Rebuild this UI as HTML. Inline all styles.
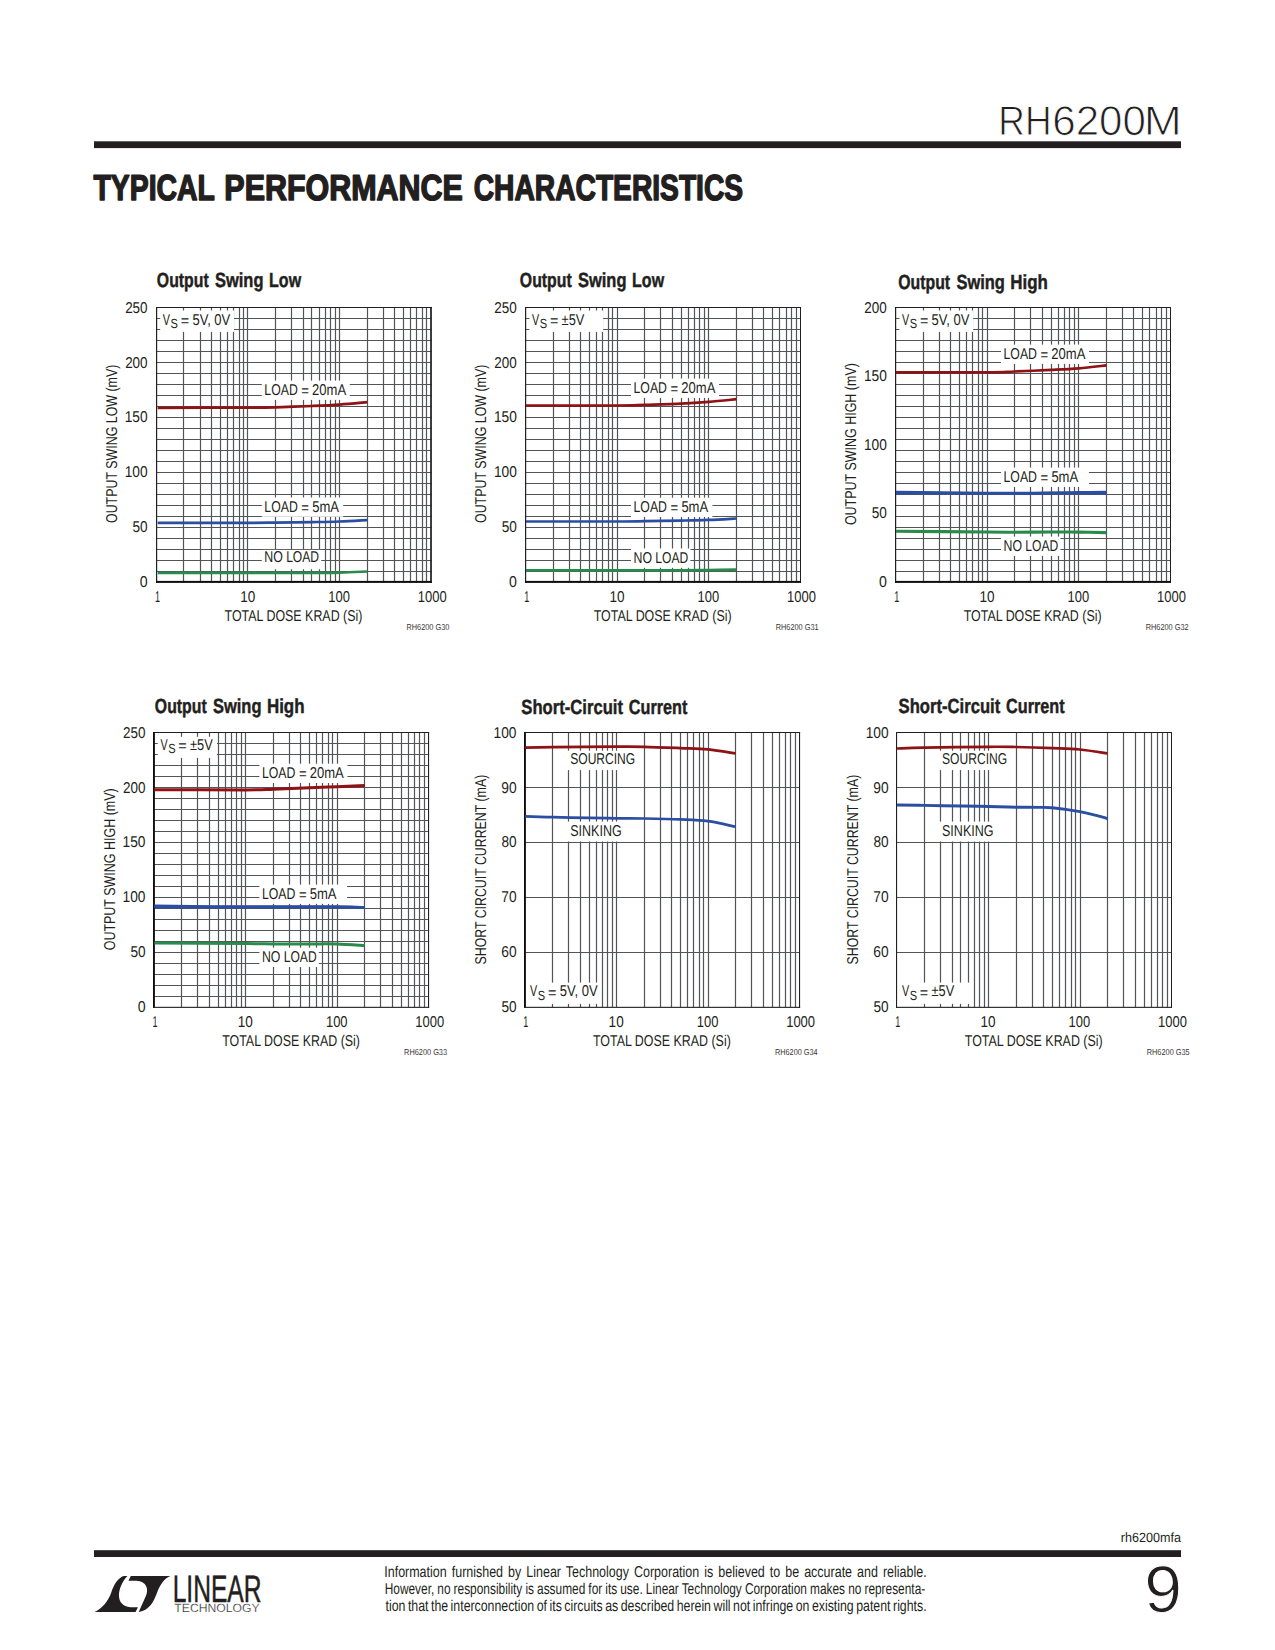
<!DOCTYPE html>
<html><head><meta charset="utf-8"><title>RH6200M</title>
<style>
html,body{margin:0;padding:0;background:#fff}
body{width:1275px;height:1650px;overflow:hidden;font-family:'Liberation Sans', sans-serif}
svg{display:block;font-family:'Liberation Sans', sans-serif}
text{white-space:pre}
</style></head><body>
<svg width="1275" height="1650" viewBox="0 0 1275 1650" text-rendering="geometricPrecision" fill="#231f20">
<text font-size="41.5" stroke="#fff" stroke-width="0.9"><tspan x="998.35" y="135.00" textLength="53.26" lengthAdjust="spacingAndGlyphs">RH</tspan><tspan x="1052.29" y="135.00" textLength="93.69" lengthAdjust="spacingAndGlyphs">6200</tspan><tspan x="1143.75" y="135.00" textLength="38.05" lengthAdjust="spacingAndGlyphs">M</tspan></text>
<rect x="94.00" y="141.30" width="1087.00" height="6.80" fill="#231f20"/>
<text font-size="36" font-weight="bold" stroke="#231f20" stroke-width="1.5" stroke-linejoin="round"><tspan x="93.52" y="200.20" textLength="120.87" lengthAdjust="spacingAndGlyphs">TYPICAL</tspan> <tspan x="224.37" y="200.20" textLength="238.45" lengthAdjust="spacingAndGlyphs">PERFORMANCE</tspan> <tspan x="473.77" y="200.20" textLength="269.32" lengthAdjust="spacingAndGlyphs">CHARACTERISTICS</tspan></text>
<path d="M183.5 307.50V582.30M200.5 307.50V582.30M211.5 307.50V582.30M220.5 307.50V582.30M227.5 307.50V582.30M233.5 307.50V582.30M239.5 307.50V582.30M243.5 307.50V582.30M247.5 307.50V582.30M275.5 307.50V582.30M291.5 307.50V582.30M303.5 307.50V582.30M311.5 307.50V582.30M319.5 307.50V582.30M325.5 307.50V582.30M330.5 307.50V582.30M335.5 307.50V582.30M339.5 307.50V582.30M367.5 307.50V582.30M383.5 307.50V582.30M394.5 307.50V582.30M403.5 307.50V582.30M410.5 307.50V582.30M416.5 307.50V582.30M422.5 307.50V582.30M426.5 307.50V582.30M156.50 318.5H431.20M156.50 329.5H431.20M156.50 340.5H431.20M156.50 351.5H431.20M156.50 362.5H431.20M156.50 373.5H431.20M156.50 384.5H431.20M156.50 395.5H431.20M156.50 406.5H431.20M156.50 417.5H431.20M156.50 428.5H431.20M156.50 439.5H431.20M156.50 450.5H431.20M156.50 461.5H431.20M156.50 472.5H431.20M156.50 483.5H431.20M156.50 494.5H431.20M156.50 505.5H431.20M156.50 516.5H431.20M156.50 527.5H431.20M156.50 538.5H431.20M156.50 549.5H431.20M156.50 560.5H431.20M156.50 571.5H431.20" stroke="#525558" stroke-width="1.2" fill="none"/>
<rect x="160.20" y="310.50" width="73.80" height="21.40" fill="#fff"/>
<rect x="261.80" y="380.60" width="88.00" height="19.30" fill="#fff"/>
<rect x="261.80" y="497.50" width="81.40" height="19.30" fill="#fff"/>
<rect x="261.80" y="549.90" width="59.40" height="19.30" fill="#fff"/>
<rect x="156.00" y="307.00" width="275.80" height="1.00" fill="#231f20"/>
<rect x="430.20" y="307.00" width="1.60" height="275.90" fill="#110d0e"/>
<rect x="156.00" y="307.00" width="1.20" height="275.90" fill="#231f20"/>
<rect x="156.00" y="580.90" width="275.80" height="2.00" fill="#110d0e"/>
<path d="M157.70 407.80C172.76 407.77 228.41 407.68 248.07 407.60C267.72 407.52 264.96 407.57 275.63 407.30C286.30 407.03 301.40 406.45 312.07 406.00C322.74 405.55 330.45 405.23 339.63 404.60C348.82 403.97 362.60 402.60 367.20 402.20" stroke="#8e1216" stroke-width="2.7" fill="none"/>
<path d="M157.70 522.80C172.76 522.80 228.41 522.83 248.07 522.80C267.72 522.77 264.96 522.72 275.63 522.60C286.30 522.48 301.40 522.28 312.07 522.10C322.74 521.92 330.45 521.83 339.63 521.50C348.82 521.17 362.60 520.33 367.20 520.10" stroke="#2b4ea2" stroke-width="2.7" fill="none"/>
<path d="M157.70 572.80C172.76 572.80 222.34 572.80 248.07 572.80C273.79 572.80 296.81 572.83 312.07 572.80C327.33 572.77 330.45 572.82 339.63 572.60C348.82 572.38 362.60 571.68 367.20 571.50" stroke="#2a8a4c" stroke-width="2.7" fill="none"/>
<text font-size="15.7"><tspan x="162.79" y="324.80" textLength="7.18" lengthAdjust="spacingAndGlyphs">V</tspan><tspan x="170.55" y="327.90" font-size="13.3" textLength="7.37" lengthAdjust="spacingAndGlyphs">S</tspan> <tspan x="180.68" y="326.20" textLength="8.40" lengthAdjust="spacingAndGlyphs">=</tspan> <tspan x="192.38" y="324.80" textLength="37.95" lengthAdjust="spacingAndGlyphs">5V, 0V</tspan></text>
<text font-size="15.7"><tspan x="264.32" y="394.60" textLength="33.44" lengthAdjust="spacingAndGlyphs">LOAD</tspan> <tspan x="301.34" y="396.00" textLength="7.67" lengthAdjust="spacingAndGlyphs">=</tspan> <tspan x="312.05" y="394.60" textLength="34.08" lengthAdjust="spacingAndGlyphs">20mA</tspan></text>
<text font-size="15.7"><tspan x="264.32" y="511.50" textLength="33.44" lengthAdjust="spacingAndGlyphs">LOAD</tspan> <tspan x="301.34" y="512.90" textLength="7.67" lengthAdjust="spacingAndGlyphs">=</tspan> <tspan x="312.18" y="511.50" textLength="26.80" lengthAdjust="spacingAndGlyphs">5mA</tspan></text>
<text font-size="15.7"><tspan x="264.31" y="562.40" textLength="18.50" lengthAdjust="spacingAndGlyphs">NO</tspan> <tspan x="286.13" y="562.40" textLength="32.91" lengthAdjust="spacingAndGlyphs">LOAD</tspan></text>
<text font-size="20.5" font-weight="bold" stroke="#231f20" stroke-width="0.45"><tspan x="156.87" y="287.30" textLength="51.79" lengthAdjust="spacingAndGlyphs">Output</tspan> <tspan x="215.01" y="287.30" textLength="48.45" lengthAdjust="spacingAndGlyphs">Swing</tspan> <tspan x="269.08" y="287.30" textLength="32.01" lengthAdjust="spacingAndGlyphs">Low</tspan></text>
<text x="139.73" y="586.80" font-size="15.7" textLength="7.88" lengthAdjust="spacingAndGlyphs">0</text>
<text x="132.50" y="532.02" font-size="15.7" textLength="15.17" lengthAdjust="spacingAndGlyphs">50</text>
<text x="124.70" y="477.24" font-size="15.7" textLength="22.93" lengthAdjust="spacingAndGlyphs">100</text>
<text x="124.70" y="422.46" font-size="15.7" textLength="22.93" lengthAdjust="spacingAndGlyphs">150</text>
<text x="125.13" y="367.68" font-size="15.7" textLength="22.49" lengthAdjust="spacingAndGlyphs">200</text>
<text x="125.13" y="312.90" font-size="15.7" textLength="22.49" lengthAdjust="spacingAndGlyphs">250</text>
<text x="154.97" y="601.80" font-size="15.7" textLength="5.05" lengthAdjust="spacingAndGlyphs">1</text>
<text x="240.22" y="601.80" font-size="15.7" textLength="15.06" lengthAdjust="spacingAndGlyphs">10</text>
<text x="328.36" y="601.80" font-size="15.7" textLength="21.64" lengthAdjust="spacingAndGlyphs">100</text>
<text x="417.76" y="601.80" font-size="15.7" textLength="28.92" lengthAdjust="spacingAndGlyphs">1000</text>
<text x="224.55" y="620.60" font-size="15.7" textLength="137.85" lengthAdjust="spacingAndGlyphs">TOTAL DOSE KRAD (Si)</text>
<text x="406.51" y="629.80" font-size="8.6" fill="#3a3637" textLength="42.86" lengthAdjust="spacingAndGlyphs">RH6200 G30</text>
<text transform="translate(117.00 523.02) rotate(-90)" font-size="15.7" textLength="158.35" lengthAdjust="spacingAndGlyphs">OUTPUT SWING LOW (mV)</text>
<path d="M553.5 307.50V582.30M569.5 307.50V582.30M580.5 307.50V582.30M589.5 307.50V582.30M596.5 307.50V582.30M602.5 307.50V582.30M608.5 307.50V582.30M612.5 307.50V582.30M617.5 307.50V582.30M644.5 307.50V582.30M660.5 307.50V582.30M672.5 307.50V582.30M681.5 307.50V582.30M688.5 307.50V582.30M694.5 307.50V582.30M699.5 307.50V582.30M704.5 307.50V582.30M708.5 307.50V582.30M736.5 307.50V582.30M752.5 307.50V582.30M763.5 307.50V582.30M772.5 307.50V582.30M779.5 307.50V582.30M786.5 307.50V582.30M791.5 307.50V582.30M796.5 307.50V582.30M525.70 318.5H800.40M525.70 329.5H800.40M525.70 340.5H800.40M525.70 351.5H800.40M525.70 362.5H800.40M525.70 373.5H800.40M525.70 384.5H800.40M525.70 395.5H800.40M525.70 406.5H800.40M525.70 417.5H800.40M525.70 428.5H800.40M525.70 439.5H800.40M525.70 450.5H800.40M525.70 461.5H800.40M525.70 472.5H800.40M525.70 483.5H800.40M525.70 494.5H800.40M525.70 505.5H800.40M525.70 516.5H800.40M525.70 527.5H800.40M525.70 538.5H800.40M525.70 549.5H800.40M525.70 560.5H800.40M525.70 571.5H800.40" stroke="#525558" stroke-width="1.2" fill="none"/>
<rect x="529.40" y="310.50" width="73.80" height="21.40" fill="#fff"/>
<rect x="631.00" y="378.60" width="88.00" height="19.30" fill="#fff"/>
<rect x="631.00" y="497.70" width="81.40" height="19.30" fill="#fff"/>
<rect x="631.00" y="548.50" width="59.40" height="19.30" fill="#fff"/>
<rect x="525.00" y="307.00" width="276.00" height="1.00" fill="#231f20"/>
<rect x="800.00" y="307.00" width="1.00" height="275.90" fill="#231f20"/>
<rect x="525.00" y="307.00" width="1.20" height="275.90" fill="#231f20"/>
<rect x="525.00" y="580.90" width="276.00" height="2.00" fill="#110d0e"/>
<path d="M526.00 405.50C541.21 405.50 597.46 405.62 617.27 405.50C637.07 405.38 634.16 405.10 644.83 404.80C655.50 404.50 670.60 404.18 681.27 403.70C691.94 403.22 699.65 402.65 708.83 401.90C718.02 401.15 731.80 399.65 736.40 399.20" stroke="#8e1216" stroke-width="2.7" fill="none"/>
<path d="M526.00 521.50C541.21 521.50 597.46 521.55 617.27 521.50C637.07 521.45 634.16 521.35 644.83 521.20C655.50 521.05 670.60 520.82 681.27 520.60C691.94 520.38 699.65 520.25 708.83 519.90C718.02 519.55 731.80 518.73 736.40 518.50" stroke="#2b4ea2" stroke-width="2.7" fill="none"/>
<path d="M526.00 570.45C541.21 570.45 591.39 570.48 617.27 570.45C643.14 570.43 666.01 570.36 681.27 570.30C696.53 570.24 699.65 570.20 708.83 570.10C718.02 570.00 731.80 569.77 736.40 569.70" stroke="#2a8a4c" stroke-width="2.7" fill="none"/>
<text font-size="15.7"><tspan x="531.99" y="324.80" textLength="7.18" lengthAdjust="spacingAndGlyphs">V</tspan><tspan x="539.75" y="327.90" font-size="13.3" textLength="7.37" lengthAdjust="spacingAndGlyphs">S</tspan> <tspan x="549.88" y="326.20" textLength="8.40" lengthAdjust="spacingAndGlyphs">=</tspan> <tspan x="561.62" y="324.80" textLength="22.74" lengthAdjust="spacingAndGlyphs">±5V</tspan></text>
<text font-size="15.7"><tspan x="633.52" y="392.60" textLength="33.44" lengthAdjust="spacingAndGlyphs">LOAD</tspan> <tspan x="670.54" y="394.00" textLength="7.67" lengthAdjust="spacingAndGlyphs">=</tspan> <tspan x="681.25" y="392.60" textLength="34.08" lengthAdjust="spacingAndGlyphs">20mA</tspan></text>
<text font-size="15.7"><tspan x="633.52" y="511.70" textLength="33.44" lengthAdjust="spacingAndGlyphs">LOAD</tspan> <tspan x="670.54" y="513.10" textLength="7.67" lengthAdjust="spacingAndGlyphs">=</tspan> <tspan x="681.38" y="511.70" textLength="26.80" lengthAdjust="spacingAndGlyphs">5mA</tspan></text>
<text font-size="15.7"><tspan x="633.51" y="562.50" textLength="18.50" lengthAdjust="spacingAndGlyphs">NO</tspan> <tspan x="655.33" y="562.50" textLength="32.91" lengthAdjust="spacingAndGlyphs">LOAD</tspan></text>
<text font-size="20.5" font-weight="bold" stroke="#231f20" stroke-width="0.45"><tspan x="519.87" y="287.30" textLength="51.79" lengthAdjust="spacingAndGlyphs">Output</tspan> <tspan x="578.01" y="287.30" textLength="48.45" lengthAdjust="spacingAndGlyphs">Swing</tspan> <tspan x="632.08" y="287.30" textLength="32.01" lengthAdjust="spacingAndGlyphs">Low</tspan></text>
<text x="508.93" y="586.80" font-size="15.7" textLength="7.88" lengthAdjust="spacingAndGlyphs">0</text>
<text x="501.70" y="532.02" font-size="15.7" textLength="15.17" lengthAdjust="spacingAndGlyphs">50</text>
<text x="493.90" y="477.24" font-size="15.7" textLength="22.93" lengthAdjust="spacingAndGlyphs">100</text>
<text x="493.90" y="422.46" font-size="15.7" textLength="22.93" lengthAdjust="spacingAndGlyphs">150</text>
<text x="494.33" y="367.68" font-size="15.7" textLength="22.49" lengthAdjust="spacingAndGlyphs">200</text>
<text x="494.33" y="312.90" font-size="15.7" textLength="22.49" lengthAdjust="spacingAndGlyphs">250</text>
<text x="524.17" y="601.80" font-size="15.7" textLength="5.05" lengthAdjust="spacingAndGlyphs">1</text>
<text x="609.42" y="601.80" font-size="15.7" textLength="15.06" lengthAdjust="spacingAndGlyphs">10</text>
<text x="697.56" y="601.80" font-size="15.7" textLength="21.64" lengthAdjust="spacingAndGlyphs">100</text>
<text x="786.96" y="601.80" font-size="15.7" textLength="28.92" lengthAdjust="spacingAndGlyphs">1000</text>
<text x="593.75" y="620.60" font-size="15.7" textLength="137.85" lengthAdjust="spacingAndGlyphs">TOTAL DOSE KRAD (Si)</text>
<text x="775.71" y="629.80" font-size="8.6" fill="#3a3637" textLength="42.93" lengthAdjust="spacingAndGlyphs">RH6200 G31</text>
<text transform="translate(485.90 523.02) rotate(-90)" font-size="15.7" textLength="158.35" lengthAdjust="spacingAndGlyphs">OUTPUT SWING LOW (mV)</text>
<path d="M923.5 307.50V582.30M939.5 307.50V582.30M950.5 307.50V582.30M959.5 307.50V582.30M966.5 307.50V582.30M972.5 307.50V582.30M978.5 307.50V582.30M982.5 307.50V582.30M987.5 307.50V582.30M1014.5 307.50V582.30M1030.5 307.50V582.30M1042.5 307.50V582.30M1051.5 307.50V582.30M1058.5 307.50V582.30M1064.5 307.50V582.30M1069.5 307.50V582.30M1074.5 307.50V582.30M1078.5 307.50V582.30M1106.5 307.50V582.30M1122.5 307.50V582.30M1133.5 307.50V582.30M1142.5 307.50V582.30M1149.5 307.50V582.30M1156.5 307.50V582.30M1161.5 307.50V582.30M1166.5 307.50V582.30M895.70 318.5H1170.40M895.70 329.5H1170.40M895.70 340.5H1170.40M895.70 351.5H1170.40M895.70 362.5H1170.40M895.70 373.5H1170.40M895.70 384.5H1170.40M895.70 395.5H1170.40M895.70 406.5H1170.40M895.70 417.5H1170.40M895.70 428.5H1170.40M895.70 439.5H1170.40M895.70 450.5H1170.40M895.70 461.5H1170.40M895.70 472.5H1170.40M895.70 483.5H1170.40M895.70 494.5H1170.40M895.70 505.5H1170.40M895.70 516.5H1170.40M895.70 527.5H1170.40M895.70 538.5H1170.40M895.70 549.5H1170.40M895.70 560.5H1170.40M895.70 571.5H1170.40" stroke="#525558" stroke-width="1.2" fill="none"/>
<rect x="899.40" y="310.50" width="73.80" height="21.40" fill="#fff"/>
<rect x="1001.00" y="344.60" width="88.00" height="19.30" fill="#fff"/>
<rect x="1001.00" y="467.60" width="87.90" height="19.30" fill="#fff"/>
<rect x="1001.00" y="536.60" width="59.40" height="19.30" fill="#fff"/>
<rect x="895.00" y="307.00" width="276.00" height="1.00" fill="#231f20"/>
<rect x="1170.00" y="307.00" width="1.00" height="275.90" fill="#231f20"/>
<rect x="895.00" y="307.00" width="1.20" height="275.90" fill="#231f20"/>
<rect x="895.00" y="580.90" width="276.00" height="2.00" fill="#110d0e"/>
<path d="M896.00 372.40C911.21 372.40 967.46 372.55 987.27 372.40C1007.07 372.25 1004.16 371.92 1014.83 371.50C1025.50 371.08 1040.60 370.43 1051.27 369.90C1061.94 369.37 1069.65 369.05 1078.83 368.30C1088.02 367.55 1101.80 365.88 1106.40 365.40" stroke="#8e1216" stroke-width="2.7" fill="none"/>
<path d="M896.00 492.00C911.21 492.17 967.46 492.80 987.27 493.00C1007.07 493.20 1004.16 493.23 1014.83 493.20C1025.50 493.17 1040.60 492.93 1051.27 492.80C1061.94 492.67 1069.65 492.53 1078.83 492.40C1088.02 492.27 1101.80 492.07 1106.40 492.00" stroke="#2b4ea2" stroke-width="2.7" fill="none"/>
<path d="M896.00 493.10C911.21 493.15 967.46 493.35 987.27 493.40C1007.07 493.45 1004.16 493.43 1014.83 493.40C1025.50 493.37 1040.60 493.23 1051.27 493.20C1061.94 493.17 1069.65 493.17 1078.83 493.20C1088.02 493.23 1101.80 493.37 1106.40 493.40" stroke="#2b4ea2" stroke-width="2.7" fill="none"/>
<path d="M896.00 531.20C911.21 531.33 967.46 531.83 987.27 532.00C1007.07 532.17 1004.16 532.20 1014.83 532.20C1025.50 532.20 1040.60 532.02 1051.27 532.00C1061.94 531.98 1069.65 532.00 1078.83 532.10C1088.02 532.20 1101.80 532.52 1106.40 532.60" stroke="#2a8a4c" stroke-width="3.1" fill="none"/>
<text font-size="15.7"><tspan x="901.99" y="324.80" textLength="7.18" lengthAdjust="spacingAndGlyphs">V</tspan><tspan x="909.75" y="327.90" font-size="13.3" textLength="7.37" lengthAdjust="spacingAndGlyphs">S</tspan> <tspan x="919.88" y="326.20" textLength="8.40" lengthAdjust="spacingAndGlyphs">=</tspan> <tspan x="931.58" y="324.80" textLength="37.95" lengthAdjust="spacingAndGlyphs">5V, 0V</tspan></text>
<text font-size="15.7"><tspan x="1003.52" y="358.60" textLength="33.44" lengthAdjust="spacingAndGlyphs">LOAD</tspan> <tspan x="1040.54" y="360.00" textLength="7.67" lengthAdjust="spacingAndGlyphs">=</tspan> <tspan x="1051.25" y="358.60" textLength="34.08" lengthAdjust="spacingAndGlyphs">20mA</tspan></text>
<text font-size="15.7"><tspan x="1003.52" y="481.60" textLength="33.44" lengthAdjust="spacingAndGlyphs">LOAD</tspan> <tspan x="1040.54" y="483.00" textLength="7.67" lengthAdjust="spacingAndGlyphs">=</tspan> <tspan x="1051.38" y="481.60" textLength="26.80" lengthAdjust="spacingAndGlyphs">5mA</tspan></text>
<text font-size="15.7"><tspan x="1003.51" y="550.60" textLength="18.50" lengthAdjust="spacingAndGlyphs">NO</tspan> <tspan x="1025.33" y="550.60" textLength="32.91" lengthAdjust="spacingAndGlyphs">LOAD</tspan></text>
<text font-size="20.5" font-weight="bold" stroke="#231f20" stroke-width="0.45"><tspan x="898.27" y="289.30" textLength="51.79" lengthAdjust="spacingAndGlyphs">Output</tspan> <tspan x="956.41" y="289.30" textLength="48.45" lengthAdjust="spacingAndGlyphs">Swing</tspan> <tspan x="1010.31" y="289.30" textLength="37.63" lengthAdjust="spacingAndGlyphs">High</tspan></text>
<text x="878.93" y="586.80" font-size="15.7" textLength="7.88" lengthAdjust="spacingAndGlyphs">0</text>
<text x="871.70" y="518.32" font-size="15.7" textLength="15.17" lengthAdjust="spacingAndGlyphs">50</text>
<text x="863.90" y="449.85" font-size="15.7" textLength="22.93" lengthAdjust="spacingAndGlyphs">100</text>
<text x="863.90" y="381.38" font-size="15.7" textLength="22.93" lengthAdjust="spacingAndGlyphs">150</text>
<text x="864.33" y="312.90" font-size="15.7" textLength="22.49" lengthAdjust="spacingAndGlyphs">200</text>
<text x="894.17" y="601.80" font-size="15.7" textLength="5.05" lengthAdjust="spacingAndGlyphs">1</text>
<text x="979.42" y="601.80" font-size="15.7" textLength="15.06" lengthAdjust="spacingAndGlyphs">10</text>
<text x="1067.56" y="601.80" font-size="15.7" textLength="21.64" lengthAdjust="spacingAndGlyphs">100</text>
<text x="1156.96" y="601.80" font-size="15.7" textLength="28.92" lengthAdjust="spacingAndGlyphs">1000</text>
<text x="963.75" y="620.60" font-size="15.7" textLength="137.85" lengthAdjust="spacingAndGlyphs">TOTAL DOSE KRAD (Si)</text>
<text x="1145.71" y="629.80" font-size="8.6" fill="#3a3637" textLength="42.93" lengthAdjust="spacingAndGlyphs">RH6200 G32</text>
<text transform="translate(855.90 525.12) rotate(-90)" font-size="15.7" textLength="161.99" lengthAdjust="spacingAndGlyphs">OUTPUT SWING HIGH (mV)</text>
<path d="M181.5 732.50V1007.30M197.5 732.50V1007.30M209.5 732.50V1007.30M218.5 732.50V1007.30M225.5 732.50V1007.30M231.5 732.50V1007.30M236.5 732.50V1007.30M241.5 732.50V1007.30M245.5 732.50V1007.30M273.5 732.50V1007.30M289.5 732.50V1007.30M300.5 732.50V1007.30M309.5 732.50V1007.30M316.5 732.50V1007.30M322.5 732.50V1007.30M328.5 732.50V1007.30M332.5 732.50V1007.30M337.5 732.50V1007.30M364.5 732.50V1007.30M380.5 732.50V1007.30M392.5 732.50V1007.30M401.5 732.50V1007.30M408.5 732.50V1007.30M414.5 732.50V1007.30M419.5 732.50V1007.30M424.5 732.50V1007.30M154.10 743.5H428.80M154.10 754.5H428.80M154.10 765.5H428.80M154.10 776.5H428.80M154.10 787.5H428.80M154.10 798.5H428.80M154.10 809.5H428.80M154.10 820.5H428.80M154.10 831.5H428.80M154.10 842.5H428.80M154.10 853.5H428.80M154.10 864.5H428.80M154.10 875.5H428.80M154.10 886.5H428.80M154.10 897.5H428.80M154.10 908.5H428.80M154.10 919.5H428.80M154.10 930.5H428.80M154.10 941.5H428.80M154.10 952.5H428.80M154.10 963.5H428.80M154.10 974.5H428.80M154.10 985.5H428.80M154.10 996.5H428.80" stroke="#525558" stroke-width="1.2" fill="none"/>
<rect x="157.80" y="736.80" width="59.20" height="21.10" fill="#fff"/>
<rect x="259.40" y="763.70" width="88.00" height="19.30" fill="#fff"/>
<rect x="259.40" y="884.60" width="87.60" height="19.30" fill="#fff"/>
<rect x="259.40" y="947.70" width="59.40" height="19.30" fill="#fff"/>
<rect x="153.00" y="732.00" width="276.10" height="1.00" fill="#231f20"/>
<rect x="428.00" y="732.00" width="1.10" height="275.90" fill="#231f20"/>
<rect x="153.00" y="732.00" width="1.90" height="275.90" fill="#110d0e"/>
<rect x="153.00" y="1006.80" width="276.10" height="1.10" fill="#231f20"/>
<path d="M154.40 789.70C169.61 789.73 225.86 789.98 245.67 789.90C265.47 789.82 262.56 789.57 273.23 789.20C283.90 788.83 299.00 788.12 309.67 787.70C320.34 787.28 328.05 787.08 337.23 786.70C346.42 786.32 360.20 785.62 364.80 785.40" stroke="#8e1216" stroke-width="3.0" fill="none"/>
<path d="M154.40 905.90C169.61 906.03 215.19 906.60 245.67 906.70C276.14 906.80 317.38 906.37 337.23 906.50C357.09 906.63 360.20 907.33 364.80 907.50" stroke="#2b4ea2" stroke-width="2.7" fill="none"/>
<path d="M154.40 906.90C169.61 906.93 215.19 907.07 245.67 907.10C276.14 907.13 317.38 907.03 337.23 907.10C357.09 907.17 360.20 907.43 364.80 907.50" stroke="#2b4ea2" stroke-width="2.7" fill="none"/>
<path d="M154.40 943.00C169.61 943.10 225.86 943.45 245.67 943.60C265.47 943.75 262.56 943.85 273.23 943.90C283.90 943.95 299.00 943.88 309.67 943.90C320.34 943.92 328.05 943.73 337.23 944.00C346.42 944.27 360.20 945.25 364.80 945.50" stroke="#2a8a4c" stroke-width="3.0" fill="none"/>
<text font-size="15.7"><tspan x="160.39" y="749.80" textLength="7.18" lengthAdjust="spacingAndGlyphs">V</tspan><tspan x="168.15" y="752.90" font-size="13.3" textLength="7.37" lengthAdjust="spacingAndGlyphs">S</tspan> <tspan x="178.28" y="751.20" textLength="8.40" lengthAdjust="spacingAndGlyphs">=</tspan> <tspan x="190.02" y="749.80" textLength="22.74" lengthAdjust="spacingAndGlyphs">±5V</tspan></text>
<text font-size="15.7"><tspan x="261.92" y="777.70" textLength="33.44" lengthAdjust="spacingAndGlyphs">LOAD</tspan> <tspan x="298.94" y="779.10" textLength="7.67" lengthAdjust="spacingAndGlyphs">=</tspan> <tspan x="309.65" y="777.70" textLength="34.08" lengthAdjust="spacingAndGlyphs">20mA</tspan></text>
<text font-size="15.7"><tspan x="261.92" y="898.60" textLength="33.44" lengthAdjust="spacingAndGlyphs">LOAD</tspan> <tspan x="298.94" y="900.00" textLength="7.67" lengthAdjust="spacingAndGlyphs">=</tspan> <tspan x="309.78" y="898.60" textLength="26.80" lengthAdjust="spacingAndGlyphs">5mA</tspan></text>
<text font-size="15.7"><tspan x="261.91" y="961.70" textLength="18.50" lengthAdjust="spacingAndGlyphs">NO</tspan> <tspan x="283.73" y="961.70" textLength="32.91" lengthAdjust="spacingAndGlyphs">LOAD</tspan></text>
<text font-size="20.5" font-weight="bold" stroke="#231f20" stroke-width="0.45"><tspan x="154.87" y="712.90" textLength="51.79" lengthAdjust="spacingAndGlyphs">Output</tspan> <tspan x="213.01" y="712.90" textLength="48.45" lengthAdjust="spacingAndGlyphs">Swing</tspan> <tspan x="266.91" y="712.90" textLength="37.63" lengthAdjust="spacingAndGlyphs">High</tspan></text>
<text x="137.63" y="1011.80" font-size="15.7" textLength="7.88" lengthAdjust="spacingAndGlyphs">0</text>
<text x="130.40" y="957.02" font-size="15.7" textLength="15.17" lengthAdjust="spacingAndGlyphs">50</text>
<text x="122.60" y="902.24" font-size="15.7" textLength="22.93" lengthAdjust="spacingAndGlyphs">100</text>
<text x="122.60" y="847.46" font-size="15.7" textLength="22.93" lengthAdjust="spacingAndGlyphs">150</text>
<text x="123.03" y="792.68" font-size="15.7" textLength="22.49" lengthAdjust="spacingAndGlyphs">200</text>
<text x="123.03" y="737.90" font-size="15.7" textLength="22.49" lengthAdjust="spacingAndGlyphs">250</text>
<text x="152.57" y="1026.80" font-size="15.7" textLength="5.05" lengthAdjust="spacingAndGlyphs">1</text>
<text x="237.82" y="1026.80" font-size="15.7" textLength="15.06" lengthAdjust="spacingAndGlyphs">10</text>
<text x="325.96" y="1026.80" font-size="15.7" textLength="21.64" lengthAdjust="spacingAndGlyphs">100</text>
<text x="415.36" y="1026.80" font-size="15.7" textLength="28.92" lengthAdjust="spacingAndGlyphs">1000</text>
<text x="222.15" y="1045.60" font-size="15.7" textLength="137.85" lengthAdjust="spacingAndGlyphs">TOTAL DOSE KRAD (Si)</text>
<text x="404.11" y="1054.80" font-size="8.6" fill="#3a3637" textLength="42.93" lengthAdjust="spacingAndGlyphs">RH6200 G33</text>
<text transform="translate(114.70 950.32) rotate(-90)" font-size="15.7" textLength="161.99" lengthAdjust="spacingAndGlyphs">OUTPUT SWING HIGH (mV)</text>
<path d="M552.5 732.50V1007.30M568.5 732.50V1007.30M580.5 732.50V1007.30M589.5 732.50V1007.30M596.5 732.50V1007.30M602.5 732.50V1007.30M607.5 732.50V1007.30M612.5 732.50V1007.30M616.5 732.50V1007.30M644.5 732.50V1007.30M660.5 732.50V1007.30M671.5 732.50V1007.30M680.5 732.50V1007.30M687.5 732.50V1007.30M693.5 732.50V1007.30M699.5 732.50V1007.30M703.5 732.50V1007.30M708.5 732.50V1007.30M735.5 732.50V1007.30M751.5 732.50V1007.30M763.5 732.50V1007.30M772.5 732.50V1007.30M779.5 732.50V1007.30M785.5 732.50V1007.30M790.5 732.50V1007.30M795.5 732.50V1007.30M524.90 787.5H799.60M524.90 842.5H799.60M524.90 897.5H799.60M524.90 952.5H799.60" stroke="#525558" stroke-width="1.2" fill="none"/>
<rect x="566.40" y="750.70" width="72.00" height="19.40" fill="#fff"/>
<rect x="566.40" y="821.60" width="58.00" height="19.90" fill="#fff"/>
<rect x="525.90" y="982.60" width="74.50" height="21.30" fill="#fff"/>
<rect x="524.00" y="732.00" width="276.10" height="1.00" fill="#231f20"/>
<rect x="799.00" y="732.00" width="1.10" height="275.90" fill="#231f20"/>
<rect x="524.00" y="732.00" width="1.90" height="275.90" fill="#110d0e"/>
<rect x="524.00" y="1006.80" width="276.10" height="1.10" fill="#231f20"/>
<path d="M525.20 747.60C529.74 747.53 537.25 747.35 552.46 747.20C567.68 747.05 601.21 746.77 616.47 746.70C631.73 746.63 633.36 746.57 644.03 746.80C654.70 747.03 669.80 747.67 680.47 748.10C691.14 748.53 698.85 748.50 708.03 749.40C717.22 750.30 731.00 752.82 735.60 753.50" stroke="#8e1216" stroke-width="2.7" fill="none"/>
<path d="M525.20 816.30C529.74 816.45 541.85 816.93 552.46 817.20C563.08 817.47 578.24 817.72 588.90 817.90C599.57 818.08 607.28 818.20 616.47 818.30C625.65 818.40 633.36 818.32 644.03 818.50C654.70 818.68 669.80 818.95 680.47 819.40C691.14 819.85 698.85 819.97 708.03 821.20C717.22 822.43 731.00 825.87 735.60 826.80" stroke="#2b4ea2" stroke-width="2.7" fill="none"/>
<text font-size="15.7"><tspan x="570.20" y="763.70" textLength="65.04" lengthAdjust="spacingAndGlyphs">SOURCING</tspan></text>
<text font-size="15.7"><tspan x="570.17" y="835.60" textLength="51.53" lengthAdjust="spacingAndGlyphs">SINKING</tspan></text>
<text font-size="15.7"><tspan x="530.09" y="996.40" textLength="7.18" lengthAdjust="spacingAndGlyphs">V</tspan><tspan x="537.85" y="999.50" font-size="13.3" textLength="7.37" lengthAdjust="spacingAndGlyphs">S</tspan> <tspan x="547.98" y="997.80" textLength="8.40" lengthAdjust="spacingAndGlyphs">=</tspan> <tspan x="559.68" y="996.40" textLength="37.95" lengthAdjust="spacingAndGlyphs">5V, 0V</tspan></text>
<text font-size="20.5" font-weight="bold" stroke="#231f20" stroke-width="0.45"><tspan x="521.30" y="714.40" textLength="101.68" lengthAdjust="spacingAndGlyphs">Short-Circuit</tspan> <tspan x="628.75" y="714.40" textLength="58.63" lengthAdjust="spacingAndGlyphs">Current</tspan></text>
<text x="501.40" y="1011.80" font-size="15.7" textLength="15.17" lengthAdjust="spacingAndGlyphs">50</text>
<text x="501.26" y="957.02" font-size="15.7" textLength="15.32" lengthAdjust="spacingAndGlyphs">60</text>
<text x="501.26" y="902.24" font-size="15.7" textLength="15.32" lengthAdjust="spacingAndGlyphs">70</text>
<text x="501.40" y="847.46" font-size="15.7" textLength="15.17" lengthAdjust="spacingAndGlyphs">80</text>
<text x="501.26" y="792.68" font-size="15.7" textLength="15.32" lengthAdjust="spacingAndGlyphs">90</text>
<text x="493.60" y="737.90" font-size="15.7" textLength="22.93" lengthAdjust="spacingAndGlyphs">100</text>
<text x="523.37" y="1026.80" font-size="15.7" textLength="5.05" lengthAdjust="spacingAndGlyphs">1</text>
<text x="608.62" y="1026.80" font-size="15.7" textLength="15.06" lengthAdjust="spacingAndGlyphs">10</text>
<text x="696.76" y="1026.80" font-size="15.7" textLength="21.64" lengthAdjust="spacingAndGlyphs">100</text>
<text x="786.16" y="1026.80" font-size="15.7" textLength="28.92" lengthAdjust="spacingAndGlyphs">1000</text>
<text x="592.95" y="1045.60" font-size="15.7" textLength="137.85" lengthAdjust="spacingAndGlyphs">TOTAL DOSE KRAD (Si)</text>
<text x="774.91" y="1054.80" font-size="8.6" fill="#3a3637" textLength="42.78" lengthAdjust="spacingAndGlyphs">RH6200 G34</text>
<text transform="translate(485.50 964.52) rotate(-90)" font-size="15.7" textLength="189.77" lengthAdjust="spacingAndGlyphs">SHORT CIRCUIT CURRENT (mA)</text>
<path d="M924.5 732.50V1007.30M940.5 732.50V1007.30M952.5 732.50V1007.30M960.5 732.50V1007.30M968.5 732.50V1007.30M974.5 732.50V1007.30M979.5 732.50V1007.30M984.5 732.50V1007.30M988.5 732.50V1007.30M1016.5 732.50V1007.30M1032.5 732.50V1007.30M1043.5 732.50V1007.30M1052.5 732.50V1007.30M1059.5 732.50V1007.30M1065.5 732.50V1007.30M1071.5 732.50V1007.30M1075.5 732.50V1007.30M1080.5 732.50V1007.30M1107.5 732.50V1007.30M1123.5 732.50V1007.30M1135.5 732.50V1007.30M1144.5 732.50V1007.30M1151.5 732.50V1007.30M1157.5 732.50V1007.30M1162.5 732.50V1007.30M1167.5 732.50V1007.30M896.75 787.5H1171.45M896.75 842.5H1171.45M896.75 897.5H1171.45M896.75 952.5H1171.45" stroke="#525558" stroke-width="1.2" fill="none"/>
<rect x="938.25" y="750.70" width="72.00" height="19.40" fill="#fff"/>
<rect x="938.25" y="821.60" width="58.00" height="19.90" fill="#fff"/>
<rect x="897.75" y="982.60" width="74.50" height="21.30" fill="#fff"/>
<rect x="896.00" y="732.00" width="276.00" height="1.00" fill="#231f20"/>
<rect x="1171.00" y="732.00" width="1.00" height="275.90" fill="#231f20"/>
<rect x="896.00" y="732.00" width="1.10" height="275.90" fill="#231f20"/>
<rect x="896.00" y="1006.80" width="276.00" height="1.10" fill="#231f20"/>
<path d="M897.05 748.50C901.59 748.37 909.10 747.98 924.31 747.70C939.53 747.42 973.06 746.92 988.32 746.80C1003.58 746.68 1005.21 746.78 1015.88 747.00C1026.55 747.22 1041.65 747.68 1052.32 748.10C1062.99 748.52 1070.70 748.60 1079.88 749.50C1089.07 750.40 1102.85 752.83 1107.45 753.50" stroke="#8e1216" stroke-width="2.7" fill="none"/>
<path d="M897.05 805.05C901.59 805.11 913.70 805.24 924.31 805.40C934.93 805.56 950.09 805.82 960.75 806.00C971.42 806.18 979.13 806.30 988.32 806.50C997.50 806.70 1006.69 807.05 1015.88 807.20C1025.07 807.35 1037.37 807.30 1043.45 807.40C1049.52 807.50 1048.61 807.47 1052.32 807.80C1056.03 808.13 1061.11 808.75 1065.70 809.40C1070.29 810.05 1074.83 810.72 1079.88 811.70C1084.93 812.68 1091.41 814.15 1096.01 815.30C1100.60 816.45 1105.54 818.05 1107.45 818.60" stroke="#2b4ea2" stroke-width="2.9" fill="none"/>
<text font-size="15.7"><tspan x="942.05" y="763.70" textLength="65.04" lengthAdjust="spacingAndGlyphs">SOURCING</tspan></text>
<text font-size="15.7"><tspan x="942.02" y="835.60" textLength="51.53" lengthAdjust="spacingAndGlyphs">SINKING</tspan></text>
<text font-size="15.7"><tspan x="901.94" y="996.40" textLength="7.18" lengthAdjust="spacingAndGlyphs">V</tspan><tspan x="909.70" y="999.50" font-size="13.3" textLength="7.37" lengthAdjust="spacingAndGlyphs">S</tspan> <tspan x="919.83" y="997.80" textLength="8.40" lengthAdjust="spacingAndGlyphs">=</tspan> <tspan x="931.57" y="996.40" textLength="22.74" lengthAdjust="spacingAndGlyphs">±5V</tspan></text>
<text font-size="20.5" font-weight="bold" stroke="#231f20" stroke-width="0.45"><tspan x="898.60" y="713.20" textLength="101.68" lengthAdjust="spacingAndGlyphs">Short-Circuit</tspan> <tspan x="1006.05" y="713.20" textLength="58.63" lengthAdjust="spacingAndGlyphs">Current</tspan></text>
<text x="873.50" y="1011.80" font-size="15.7" textLength="15.17" lengthAdjust="spacingAndGlyphs">50</text>
<text x="873.36" y="957.02" font-size="15.7" textLength="15.32" lengthAdjust="spacingAndGlyphs">60</text>
<text x="873.36" y="902.24" font-size="15.7" textLength="15.32" lengthAdjust="spacingAndGlyphs">70</text>
<text x="873.50" y="847.46" font-size="15.7" textLength="15.17" lengthAdjust="spacingAndGlyphs">80</text>
<text x="873.36" y="792.68" font-size="15.7" textLength="15.32" lengthAdjust="spacingAndGlyphs">90</text>
<text x="865.70" y="737.90" font-size="15.7" textLength="22.93" lengthAdjust="spacingAndGlyphs">100</text>
<text x="895.22" y="1026.80" font-size="15.7" textLength="5.05" lengthAdjust="spacingAndGlyphs">1</text>
<text x="980.47" y="1026.80" font-size="15.7" textLength="15.06" lengthAdjust="spacingAndGlyphs">10</text>
<text x="1068.61" y="1026.80" font-size="15.7" textLength="21.64" lengthAdjust="spacingAndGlyphs">100</text>
<text x="1158.01" y="1026.80" font-size="15.7" textLength="28.92" lengthAdjust="spacingAndGlyphs">1000</text>
<text x="964.80" y="1045.60" font-size="15.7" textLength="137.85" lengthAdjust="spacingAndGlyphs">TOTAL DOSE KRAD (Si)</text>
<text x="1146.76" y="1054.80" font-size="8.6" fill="#3a3637" textLength="42.93" lengthAdjust="spacingAndGlyphs">RH6200 G35</text>
<text transform="translate(857.70 964.52) rotate(-90)" font-size="15.7" textLength="189.77" lengthAdjust="spacingAndGlyphs">SHORT CIRCUIT CURRENT (mA)</text>
<rect x="94.00" y="1550.20" width="1087.00" height="6.80" fill="#231f20"/>
<text x="1120.82" y="1542.00" font-size="13.4" textLength="60.09" lengthAdjust="spacingAndGlyphs">rh6200mfa</text>
<text x="1144.21" y="1611.80" font-size="66.3" textLength="37.73" lengthAdjust="spacingAndGlyphs" stroke="#fff" stroke-width="1.0">9</text>
<text x="384.25" y="1576.80" font-size="15.7" word-spacing="1.970" textLength="542.41" lengthAdjust="spacingAndGlyphs">Information furnished by Linear Technology Corporation is believed to be accurate and reliable.</text>
<text x="384.71" y="1593.70" font-size="15.7" word-spacing="-0.300" textLength="540.51" lengthAdjust="spacingAndGlyphs">However, no responsibility is assumed for its use. Linear Technology Corporation makes no representa-</text>
<text x="385.50" y="1610.60" font-size="15.7" word-spacing="-1.155" textLength="541.09" lengthAdjust="spacingAndGlyphs">tion that the interconnection of its circuits as described herein will not infringe on existing patent rights.</text>
<g transform="translate(90 1568) scale(0.070588)" fill="#231f20"><path d="M530 115L478 115C400 140 340 230 300 350C260 460 180 570 65 625L645 625L680 555L570 555C470 550 410 480 410 390C410 300 460 190 530 115Z"/><path d="M578 115L1140 115C1060 140 990 240 950 350C900 480 850 590 690 625L790 400C840 290 790 185 660 180L545 180Z"/></g>
<text x="172.63" y="1601.60" font-size="38.2" textLength="88.86" lengthAdjust="spacingAndGlyphs" stroke="#231f20" stroke-width="0.5">LINEAR</text>
<text x="174.36" y="1611.90" font-size="11.9" textLength="85.30" lengthAdjust="spacingAndGlyphs" stroke="#fff" stroke-width="0.25">TECHNOLOGY</text>
</svg>
</body></html>
